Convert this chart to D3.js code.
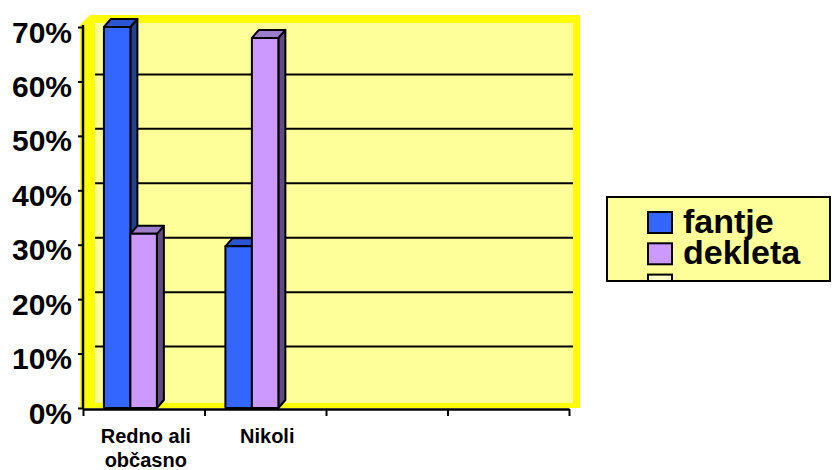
<!DOCTYPE html>
<html>
<head>
<meta charset="utf-8">
<script src="https://cdn.jsdelivr.net/npm/d3@7/dist/d3.min.js"></script>
<style>
  body { margin: 0; background: #fff; }
  svg { display: block; font-family: "Liberation Sans", Arial, sans-serif; }
</style>
</head>
<body>
<div id="chart"></div>
<script>
// data
const categories = [["Redno ali", "občasno"], ["Nikoli"], [], []];
const seriesNames = ["fantje", "dekleta"];
const fantje = [0.70, 0.297];
const dekleta = [0.32, 0.68];
const yTicks = [0, 0.1, 0.2, 0.3, 0.4, 0.5, 0.6, 0.7];

const width = 832, height = 470;

const svg = d3.select("#chart").append("svg")
    .attr("width", width)
    .attr("height", height);

// scales
const y = d3.scaleLinear().domain([0, 0.7]).range([408, 27]);
const xEdge = d3.scaleLinear().domain([0, categories.length]).range([83, 569]);
const x = d3.scaleBand().domain(d3.range(categories.length)).range([83, 569]);
const bw = x.bandwidth();
const xs = d3.scaleBand().domain(seriesNames)
    .range([0.172 * bw, 0.172 * bw + 2 * 0.218 * bw]);

const colors = {
    fantje: { front: "#3366FF", top: "#2B55D2", side: "#23408C" },
    dekleta: { front: "#CC99FF", top: "#9C7CCB", side: "#634B82" }
};

// plot area (walls)
svg.append("polygon")
    .attr("points", "80,25 90,15 580,15 580,408 80,408")
    .attr("fill", "#FFFF00");
svg.append("rect")
    .attr("x", 95).attr("y", 23)
    .attr("width", 573 - 95).attr("height", 403 - 23)
    .attr("fill", "#FFFF99");

// gridlines on back wall
const depthWall = -7;
svg.append("g")
    .selectAll("line")
    .data(yTicks.filter(d => d > 0 && d < 0.7))
    .join("line")
    .attr("x1", 95).attr("x2", 573)
    .attr("y1", d => y(d) + depthWall)
    .attr("y2", d => y(d) + depthWall)
    .attr("stroke", "#000")
    .attr("stroke-width", 2);

// bars
const dx = 7, dy = -8;
const values = { fantje, dekleta };
const bars = [];
categories.forEach((c, i) => {
    seriesNames.forEach(s => {
        if (values[s][i] != null) bars.push({ i, s, v: values[s][i] });
    });
});

const barG = svg.append("g")
    .attr("stroke", "#000")
    .attr("stroke-width", 2)
    .attr("stroke-linejoin", "round");

bars.forEach(d => {
    const x0 = x(d.i) + xs(d.s);
    const w = xs.bandwidth();
    const yt = y(d.v), yb = y(0);
    const c = colors[d.s];
    const g = barG.append("g");
    g.append("polygon")
        .attr("points", [[x0 + w, yt], [x0 + w + dx, yt + dy], [x0 + w + dx, yb + dy], [x0 + w, yb]].join(" "))
        .attr("fill", c.side);
    g.append("polygon")
        .attr("points", [[x0, yt], [x0 + dx, yt + dy], [x0 + w + dx, yt + dy], [x0 + w, yt]].join(" "))
        .attr("fill", c.top);
    g.append("rect")
        .attr("x", x0).attr("y", yt)
        .attr("width", w).attr("height", yb - yt)
        .attr("fill", c.front);
});

// y axis
const yAxis = svg.append("g")
    .attr("transform", "translate(83,0)")
    .call(d3.axisLeft(y).tickValues(yTicks).tickFormat(d3.format(".0%")).tickSize(5).tickPadding(6));
yAxis.select(".domain").attr("stroke-width", 2.5).attr("d", "M0,25V409");
yAxis.selectAll(".tick line").attr("stroke-width", 2);
yAxis.selectAll(".tick text")
    .attr("dy", "0.5em")
    .style("font-size", "30px")
    .style("font-weight", "bold")
    .attr("fill", "#000");

// x axis
const xAxis = svg.append("g")
    .attr("transform", "translate(0,409)")
    .call(d3.axisBottom(xEdge).tickValues(d3.range(categories.length + 1)).tickFormat("").tickSize(7).tickSizeOuter(0));
xAxis.select(".domain").attr("stroke-width", 2.5);
xAxis.selectAll(".tick line").attr("stroke-width", 2);

svg.append("g")
    .selectAll("text")
    .data(categories.map((lines, i) => ({ lines, i })))
    .join("text")
    .attr("text-anchor", "middle")
    .style("font-size", "20px")
    .style("font-weight", "bold")
    .each(function (d) {
        d3.select(this).selectAll("tspan")
            .data(d.lines)
            .join("tspan")
            .attr("x", x(d.i) + bw / 2 + 2)
            .attr("y", (t, k) => 443 + k * 24)
            .text(t => t);
    });

// legend
const legend = svg.append("g");
legend.append("clipPath").attr("id", "legclip")
    .append("rect").attr("x", 607).attr("y", 197).attr("width", 223).attr("height", 84);
legend.append("rect")
    .attr("x", 607).attr("y", 197).attr("width", 223).attr("height", 84)
    .attr("fill", "#FFFF99");
const legItems = legend.append("g").attr("clip-path", "url(#legclip)");
const legData = [
    { name: "fantje", fill: colors.fantje.front },
    { name: "dekleta", fill: colors.dekleta.front },
    { name: "", fill: "#FFFFCC" }
];
legData.forEach((d, k) => {
    legItems.append("rect")
        .attr("x", 648).attr("y", 212 + k * 31.3)
        .attr("width", 24).attr("height", 21)
        .attr("fill", d.fill)
        .attr("stroke", "#000").attr("stroke-width", 2);
    legItems.append("text")
        .attr("x", 683).attr("y", 233 + k * 31.3)
        .style("font-size", "34px")
        .style("font-weight", "bold")
        .text(d.name);
});
legend.append("rect")
    .attr("x", 607).attr("y", 197).attr("width", 223).attr("height", 84)
    .attr("fill", "none")
    .attr("stroke", "#000").attr("stroke-width", 2);
</script>
</body>
</html>
